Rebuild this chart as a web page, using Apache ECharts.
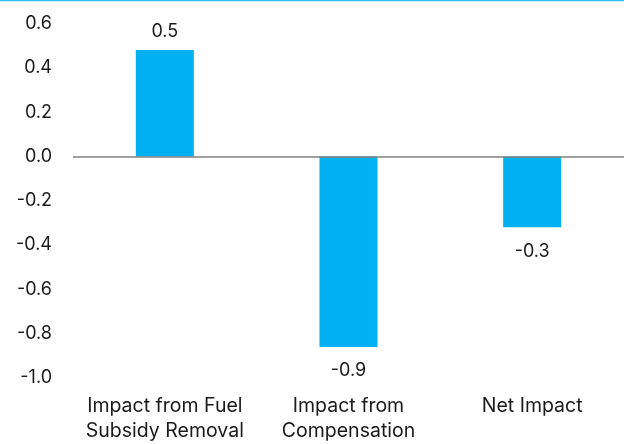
<!DOCTYPE html>
<html>
<head>
<meta charset="utf-8">
<script src="https://cdn.jsdelivr.net/npm/echarts@6/dist/echarts.min.js"></script>
<style>
  html, body { margin: 0; padding: 0; background: #ffffff; }
  #chart { width: 624px; height: 444px; }
</style>
</head>
<body>
<div id="chart"></div>
<script>
// Categories and values (percent impact)
const categories = ['Impact from Fuel\nSubsidy Removal', 'Impact from\nCompensation', 'Net Impact'];
const impactValues = [0.48, -0.86, -0.32];
const yTicks = { min: -1.0, max: 0.6, step: 0.2 };

const FONT = 'Inter, "Open Sans", sans-serif';
const chart = echarts.init(document.getElementById('chart'), null, { renderer: 'canvas' });

chart.setOption({
  animation: false,
  backgroundColor: '#ffffff',
  grid: { left: 73, top: 23.5, right: -5, height: 359, containLabel: false },
  xAxis: {
    type: 'category',
    data: categories,
    axisLine: { show: false, onZero: false },
    axisTick: { show: false },
    axisLabel: {
      color: '#1a1a1a', fontFamily: FONT, fontSize: 19.5, lineHeight: 25,
      margin: 16, interval: 0
    },
    splitLine: { show: false }
  },
  yAxis: {
    type: 'value',
    min: yTicks.min, max: yTicks.max, interval: yTicks.step,
    axisLine: { show: false },
    axisTick: { show: false },
    splitLine: { show: false },
    axisLabel: {
      color: '#1a1a1a', fontFamily: FONT, fontSize: 18,
      align: 'right', margin: 21,
      formatter: v => v.toFixed(1)
    }
  },
  series: [{
    type: 'bar',
    barWidth: 58,
    itemStyle: { color: '#00B0F0' },
    data: impactValues.map(v => ({
      value: v,
      label: { position: v >= 0 ? 'top' : 'bottom', distance: v >= 0 ? 9 : 15 }
    })),
    label: {
      show: true,
      color: '#1a1a1a', fontFamily: FONT, fontSize: 18,
      formatter: p => p.value.toFixed(1)
    },
    markLine: {
      silent: true, symbol: 'none',
      label: { show: false },
      lineStyle: { color: '#808080', width: 1.5, type: 'solid' },
      data: [{ yAxis: 0 }]
    }
  }],
  graphic: [{
    type: 'line',
    shape: { x1: 0, y1: 0.5, x2: 624, y2: 0.5 },
    style: { stroke: '#33BDF0', lineWidth: 1.5 },
    silent: true
  }]
});
</script>
</body>
</html>
